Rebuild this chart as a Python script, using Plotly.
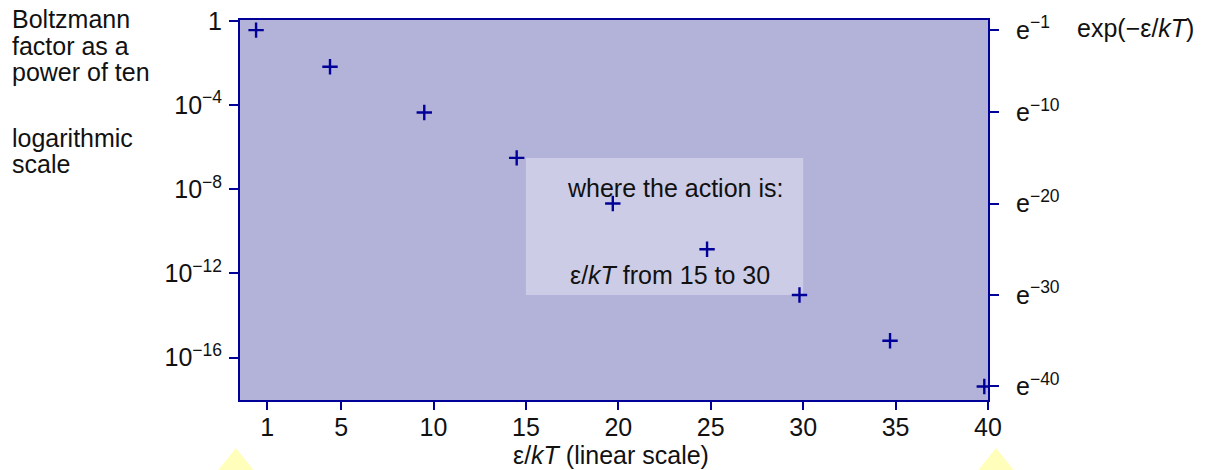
import math
import plotly.graph_objects as go

# ---- data ----
eps_ticks = [1, 5, 10, 15, 20, 25, 30, 35, 40]
eps_tick_text = ["1", "5", "10", "15", "20", "25", "30", "35", "40"]
marker_eps = [0.4, 4.4, 9.5, 14.5, 19.7, 24.8, 29.8, 34.7, 39.8]
boltzmann = [3.7e-1, 6.7e-3, 4.5e-5, 3.1e-7, 2.1e-9, 1.4e-11, 9.4e-14, 6.3e-16, 4.2e-18]

left_tick_vals = [1, 1e-4, 1e-8, 1e-12, 1e-16]
left_tick_text = ["1", "10<sup>−4</sup>", "10<sup>−8</sup>", "10<sup>−12</sup>", "10<sup>−16</sup>"]

right_exponents = [1, 10, 20, 30, 40]
right_tick_text = ["e<sup>−1</sup>", "e<sup>−10</sup>", "e<sup>−20</sup>", "e<sup>−30</sup>", "e<sup>−40</sup>"]

action_eps = [15, 30]

# ---- styling ----
NAVY = "#000099"
BG = "#B3B3D9"
BOX = "#CCCCE6"
TXT = "#111111"
FONT = "Liberation Sans, Arial, sans-serif"
FS = 25

X_RANGE = [-0.47, 40]
Y_RANGE = [-18.02, 0.05]  # log10

right_tick_vals = [math.exp(-n) for n in right_exponents]


def ypaper(v):
    return (math.log10(v) - Y_RANGE[0]) / (Y_RANGE[1] - Y_RANGE[0])


fig = go.Figure()
fig.add_trace(go.Scatter(
    x=marker_eps, y=boltzmann, mode="markers",
    marker=dict(symbol="cross-thin", size=11, line=dict(width=2.4, color=NAVY), color=NAVY),
    showlegend=False, hoverinfo="x+y",
))
fig.add_trace(go.Scatter(
    x=marker_eps, y=boltzmann, mode="markers", yaxis="y2",
    marker=dict(opacity=0), showlegend=False, hoverinfo="skip",
))

axis_common = dict(
    showgrid=False, zeroline=False, showline=True, linecolor=NAVY, linewidth=2,
    ticks="outside", tickcolor=NAVY, tickwidth=1.5,
    tickfont=dict(family=FONT, size=FS, color=TXT),
)

fig.update_layout(
    width=1211, height=470,
    margin=dict(l=240, r=223, t=20, b=70),
    paper_bgcolor="white", plot_bgcolor=BG,
    font=dict(family=FONT, size=FS, color=TXT),
    xaxis=dict(
        **axis_common, range=X_RANGE, tickmode="array", tickvals=eps_ticks,
        ticktext=eps_tick_text, ticklen=8, mirror=True, ticklabelstandoff=-4,
        automargin=False,
    ),
    yaxis=dict(
        **axis_common, type="log", range=Y_RANGE, tickmode="array",
        tickvals=left_tick_vals, ticktext=left_tick_text, ticklen=9, mirror=True,
        ticklabelstandoff=2, automargin=False,
    ),
    yaxis2=dict(
        **axis_common, type="log", range=Y_RANGE, tickmode="array",
        tickvals=right_tick_vals, ticktext=right_tick_text, ticklen=9,
        overlaying="y", side="right", ticklabelstandoff=12, automargin=False,
    ),
)

# "where the action is" box
fig.add_shape(type="rect", xref="x", yref="paper",
              x0=action_eps[0], x1=action_eps[1],
              y0=ypaper(math.exp(-action_eps[1])), y1=ypaper(math.exp(-action_eps[0])),
              fillcolor=BOX, line=dict(width=0), layer="below")

# yellow pointer triangles under the axis ends
for cx in (-0.0055, 1.0107):
    fig.add_shape(type="path", xref="paper", yref="paper",
                  path=f"M {cx - 0.026} -0.19 L {cx} -0.126 L {cx + 0.026} -0.19 Z",
                  fillcolor="#FFFFBB", line=dict(width=0), layer="above")


W = 748.0
H = 380.0
def px(xp):
    return (xp - 240) / W
def py(yp):
    return (400 - yp) / H


def ann(text, x, y, xanchor="left"):
    fig.add_annotation(text=text, x=x, y=y, xref="paper", yref="paper",
                       xanchor=xanchor, yanchor="middle", showarrow=False,
                       font=dict(family=FONT, size=FS, color=TXT))


ann("Boltzmann", px(10), py(19))
ann("factor as a", px(10), py(45.5))
ann("power of ten", px(10), py(72))
ann("logarithmic", px(10), py(138))
ann("scale", px(10), py(164))
ann("exp(−ε/<i>kT</i>)", px(1075), py(28))
ann("where the action is:", px(674.5), py(188), xanchor="center")
ann("ε/<i>kT</i> from 15 to 30", px(669.5), py(275), xanchor="center")
ann("ε/<i>kT</i> (linear scale)", px(611), py(455), xanchor="center")

fig.write_html("out.html", config={"displayModeBar": False},
               post_script="document.body.style.margin='0';")
